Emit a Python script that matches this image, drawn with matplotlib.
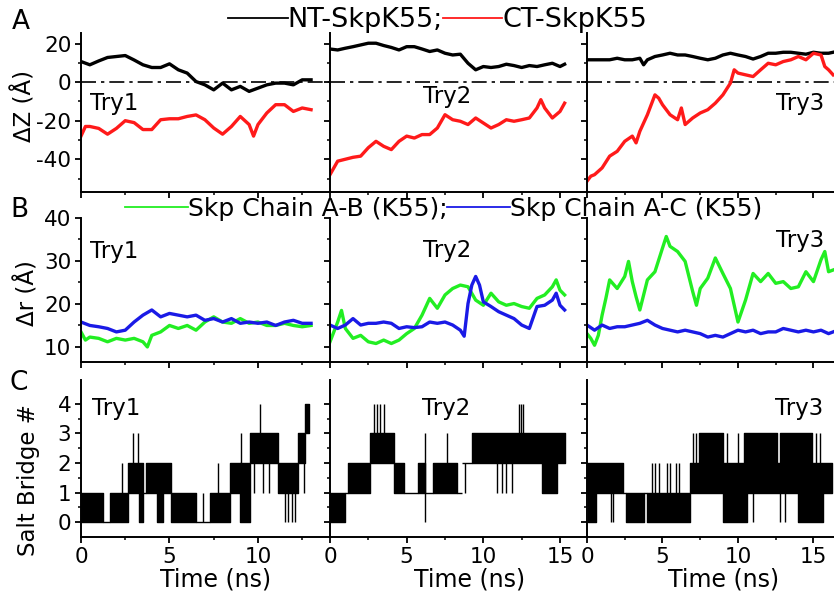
import matplotlib
matplotlib.use("Agg")
import matplotlib.pyplot as plt
from matplotlib.lines import Line2D

plt.rcParams['font.family'] = ['DejaVu Sans']
plt.rcParams['axes.unicode_minus'] = False

# ---- row A: delta Z (A) ----
nt1_t = [0, 0.5, 1, 1.5, 2, 2.5, 3, 3.5, 4, 4.5, 5, 5.5, 6, 6.5, 7, 7.5, 8, 8.5, 9, 9.5, 10, 10.5, 11, 11.5, 12, 12.5, 13]
nt1 = [10.7, 9.0, 11.0, 12.8, 13.3, 13.8, 11.5, 9.0, 7.6, 7.6, 9.5, 6.4, 4.7, 0.3, -1.4, -4.0, -0.5, -4.0, -2.2, -4.8, -3.1, -1.4, -0.5, -0.5, -1.4, 1.2, 1.2]
ct1_t = [0, 0.25, 0.5, 1, 1.5, 2, 2.5, 3, 3.5, 4, 4.5, 5, 5.5, 6, 6.5, 7, 7.5, 8, 8.5, 9, 9.5, 9.75, 10, 10.5, 11, 11.5, 12, 12.5, 13]
ct1 = [-28, -23, -23, -24, -27, -24, -20, -21, -24.6, -24.6, -19.5, -19, -19, -17.8, -17, -19.5, -23.8, -27, -23, -17.8, -22, -28, -22, -16, -11.7, -11.7, -15.2, -13.4, -14.3]

nt2_t = [0, 0.5, 1, 1.5, 2, 2.5, 3, 3.5, 4, 4.5, 5, 5.5, 6, 6.5, 7, 7.5, 8, 8.5, 9, 9.5, 10, 10.5, 11, 11.5, 12, 12.5, 13, 13.5, 14, 14.5, 15, 15.3]
nt2 = [17.2, 16.7, 17.6, 18.4, 19.3, 20.2, 20.2, 19.0, 18.0, 16.7, 18.4, 18.4, 17.2, 15.9, 16.7, 15.0, 14.1, 14.5, 9.8, 6.4, 8.1, 7.6, 8.1, 9.3, 8.6, 7.6, 8.6, 8.1, 9.0, 9.8, 8.1, 9.3]
ct2_t = [0, 0.25, 0.5, 1, 1.5, 2, 2.5, 3, 3.5, 4, 4.5, 5, 5.5, 6, 6.5, 7, 7.5, 8, 8.5, 9, 9.5, 10, 10.5, 11, 11.5, 12, 12.5, 13, 13.5, 13.75, 14, 14.5, 15, 15.3]
ct2 = [-48, -44.5, -41, -40, -39, -38.4, -34, -30.7, -33.3, -35, -30.7, -28, -29, -27.2, -27.2, -23.8, -16.9, -19.5, -20.3, -22, -18.6, -21.2, -23.8, -22, -19.5, -20.3, -19.5, -18.6, -13.4, -9.1, -13.4, -18.6, -15.2, -10.9]

nt3_t = [0, 0.5, 1, 1.5, 2, 2.5, 3, 3.5, 3.75, 4, 4.5, 5, 5.5, 6, 6.5, 7, 7.5, 8, 8.5, 9, 9.5, 10, 10.5, 11, 11.5, 12, 12.5, 13, 13.5, 14, 14.5, 15, 15.5, 16, 16.3]
nt3 = [11.6, 11.6, 11.6, 11.6, 12.4, 11.6, 11.6, 12.4, 9.0, 11.6, 13.3, 14.1, 15.0, 14.1, 14.1, 13.3, 12.4, 11.6, 12.4, 14.1, 15.0, 14.1, 13.3, 12.0, 13.3, 15.0, 15.0, 15.5, 15.5, 15.0, 14.5, 15.5, 15.0, 15.0, 15.5]
ct3_t = [0, 0.25, 0.5, 1, 1.5, 2, 2.5, 3, 3.25, 3.5, 4, 4.5, 4.75, 5, 5.5, 6, 6.25, 6.5, 7, 7.5, 8, 8.5, 9, 9.5, 9.75, 10, 10.5, 11, 11.5, 12, 12.5, 13, 13.5, 14, 14.5, 15, 15.5, 15.75, 16, 16.3]
ct3 = [-51.4, -48.8, -48, -44.5, -38.4, -35.9, -30.7, -28, -31.5, -25.5, -16.9, -6.6, -8.3, -11.7, -16.9, -19.5, -13.4, -22, -18.6, -16, -14.3, -10.9, -6.6, -0.5, 6.4, 4.7, 3.8, 2.9, 6.4, 9.8, 9.0, 10.7, 11.6, 13.3, 11.6, 15.0, 14.1, 8.1, 6.4, 3.8]

# ---- row B: delta r (A) ----
ab1_t = [0, 0.25, 0.5, 1, 1.5, 2, 2.5, 3, 3.5, 3.75, 4, 4.5, 5, 5.5, 6, 6.5, 7, 7.5, 8, 8.5, 9, 9.5, 10, 10.5, 11, 11.5, 12, 12.5, 13]
ab1 = [13.5, 11.6, 12.3, 12.0, 11.2, 12.0, 11.6, 12.0, 11.2, 10.0, 12.7, 13.5, 15.0, 14.3, 15.0, 13.9, 15.8, 17.0, 15.8, 15.5, 16.6, 15.5, 15.8, 15.0, 15.0, 15.5, 15.0, 14.7, 15.0]
ac1_t = [0, 0.5, 1, 1.5, 2, 2.5, 3, 3.5, 4, 4.5, 5, 5.5, 6, 6.5, 7, 7.5, 8, 8.5, 9, 9.5, 10, 10.5, 11, 11.5, 12, 12.5, 13]
ac1 = [15.8, 15.0, 14.7, 14.3, 13.5, 13.9, 15.8, 17.4, 18.6, 17.0, 17.8, 17.4, 17.0, 17.4, 16.2, 16.6, 15.8, 16.6, 15.5, 15.8, 15.5, 15.8, 15.0, 15.8, 16.2, 15.5, 15.5]

ab2_t = [0, 0.25, 0.5, 0.75, 1, 1.5, 2, 2.5, 3, 3.5, 4, 4.5, 5, 5.5, 6, 6.5, 7, 7.5, 8, 8.5, 9, 9.5, 10, 10.5, 11, 11.5, 12, 12.5, 13, 13.5, 14, 14.5, 14.75, 15, 15.3]
ab2 = [11.2, 13.5, 15.8, 18.5, 14.3, 12.0, 12.7, 11.2, 10.8, 11.6, 10.8, 11.6, 13.1, 14.3, 17.4, 21.3, 19.0, 22.1, 23.6, 24.4, 24.0, 20.9, 19.7, 22.5, 20.5, 19.7, 20.1, 19.4, 19.0, 21.3, 22.1, 24.0, 25.6, 23.2, 22.1]
ac2_t = [0, 0.5, 1, 1.5, 2, 2.5, 3, 3.5, 4, 4.5, 5, 5.5, 6, 6.5, 7, 7.5, 8, 8.5, 8.75, 9, 9.25, 9.5, 9.75, 10, 10.5, 11, 11.5, 12, 12.5, 13, 13.5, 14, 14.5, 14.75, 15, 15.3]
ac2 = [15.1, 14.3, 15.1, 16.6, 15.1, 15.5, 15.5, 15.8, 15.5, 14.3, 14.7, 14.5, 14.7, 15.8, 15.5, 15.8, 15.1, 13.9, 12.5, 20.1, 24.4, 26.4, 24.4, 20.5, 19.4, 18.2, 17.4, 16.6, 15.1, 14.3, 19.4, 19.7, 20.9, 22.5, 19.7, 18.6]

ab3_t = [0, 0.25, 0.5, 0.75, 1, 1.25, 1.5, 2, 2.5, 2.75, 3, 3.25, 3.5, 3.75, 4, 4.5, 5, 5.25, 5.5, 6, 6.5, 7, 7.25, 7.5, 8, 8.5, 9, 9.5, 10, 10.5, 11, 11.5, 12, 12.5, 13, 13.5, 14, 14.5, 15, 15.5, 15.75, 16, 16.3]
ab3 = [13.1, 12.0, 10.4, 12.7, 17.4, 21.3, 25.6, 23.6, 26.4, 29.9, 25.2, 21.7, 18.6, 22.1, 25.6, 27.5, 33.0, 35.7, 33.4, 32.2, 29.9, 22.9, 19.7, 23.6, 26.0, 30.7, 27.1, 23.6, 15.8, 20.9, 27.1, 25.2, 27.1, 24.8, 25.2, 23.6, 24.0, 27.5, 25.2, 30.3, 32.2, 27.5, 27.9]
ac3_t = [0, 0.5, 1, 1.5, 2, 2.5, 3, 3.5, 4, 4.5, 5, 5.5, 6, 6.5, 7, 7.5, 8, 8.5, 9, 9.5, 10, 10.5, 11, 11.5, 12, 12.5, 13, 13.5, 14, 14.5, 15, 15.5, 16, 16.3]
ac3 = [15.1, 13.9, 15.1, 14.3, 14.7, 14.7, 15.1, 15.5, 16.2, 15.1, 14.3, 13.9, 13.5, 13.9, 13.5, 13.1, 12.3, 12.7, 12.3, 13.1, 13.9, 13.5, 13.9, 13.1, 13.5, 13.5, 14.3, 13.9, 13.5, 13.9, 13.5, 13.9, 13.1, 13.5]

# ---- row C: salt bridge count, (t_start, t_end, low, high) blocks + single spikes (t, low, high) ----
sb1_blocks = [(0.0, 1.26, 0, 1), (1.26, 1.64, 0, 0), (1.64, 2.67, 0, 1), (2.67, 3.5, 1, 2), (3.3, 3.5, 0, 1),
              (3.5, 3.67, 1, 1), (3.67, 5.1, 1, 2), (4.27, 4.64, 0, 1), (5.1, 6.5, 0, 1), (6.5, 7.27, 0, 0),
              (7.27, 8.4, 0, 1), (8.4, 8.97, 1, 2), (8.97, 9.53, 0, 2), (9.53, 11.13, 2, 3),
              (11.13, 12.26, 1, 2), (12.26, 12.63, 2, 3), (12.63, 12.9, 3, 4)]
sb1_spikes = [(2.3, 1, 2), (2.95, 2, 3), (3.23, 2, 3), (6.9, 0, 1), (7.74, 1, 2), (9.06, 2, 3), (10.1, 3, 4),
              (9.8, 1, 2), (10.3, 1, 2), (10.6, 1, 2), (11.5, 0, 1), (11.7, 0, 1), (11.9, 0, 1), (12.1, 0, 1), (12.6, 1, 2)]

sb2_blocks = [(0.0, 1.0, 0, 1), (1.0, 1.2, 1, 1), (1.2, 2.6, 1, 2), (2.6, 4.2, 2, 3), (4.2, 4.8, 1, 2),
              (4.8, 5.75, 1, 1), (5.75, 6.2, 1, 2), (6.2, 6.7, 1, 1), (6.7, 8.3, 1, 2), (8.3, 8.6, 1, 1),
              (8.6, 9.25, 2, 2), (9.25, 15.3, 2, 3), (13.8, 14.8, 1, 2)]
sb2_spikes = [(2.9, 3, 4), (3.05, 3, 4), (3.25, 3, 4), (3.5, 3, 4), (6.2, 0, 3), (7.6, 2, 3), (8.8, 1, 2),
              (10.9, 1, 2), (11.2, 1, 2), (11.5, 1, 2), (11.9, 1, 2), (12.3, 3, 4), (12.45, 3, 4), (12.6, 3, 4)]

sb3_blocks = [(0.0, 2.4, 1, 2), (0.05, 0.6, 0, 1), (2.4, 2.6, 1, 1), (2.6, 3.8, 0, 1), (3.8, 4.0, 1, 1),
              (4.0, 6.8, 0, 1), (6.8, 16.2, 1, 2), (7.4, 9.0, 2, 3), (9.0, 10.6, 0, 1), (10.4, 12.6, 2, 3),
              (12.8, 14.9, 2, 3), (14.0, 15.6, 0, 1)]
sb3_spikes = [(1.6, 0, 1), (1.75, 0, 1), (4.3, 1, 2), (4.5, 1, 2), (4.8, 1, 2), (5.3, 1, 2), (5.5, 1, 2),
              (5.9, 1, 2), (6.1, 1, 2), (7.0, 2, 3), (7.2, 2, 3), (9.3, 2, 3), (10.0, 2, 3), (11.0, 0, 1),
              (12.8, 0, 1), (13.1, 0, 1), (15.2, 2, 3), (15.4, 2, 3)]

runs = ['Try1', 'Try2', 'Try3']

W, H = 834, 599
fig = plt.figure(figsize=(W / 100, H / 100), dpi=100)

def px_box(x0, x1, y_top, y_bot):
    return [x0 / W, 1 - y_bot / H, (x1 - x0) / W, (y_bot - y_top) / H]

cols = [(81, 330), (330, 587), (587, 834)]
xmax = [14.07, 16.76, 16.36]
rows = [(33, 192), (218, 362), (380, 537)]
ylims = [(-57, 25.5), (6.5, 40), (-0.5, 4.8)]
ymaj = [[-40, -20, 0, 20], [10, 20, 30, 40], [0, 1, 2, 3, 4]]
ymin = [[-50, -30, -10, 10], [15, 25, 35], [0.5, 1.5, 2.5, 3.5]]

axes = [[None] * 3 for _ in range(3)]
for r in range(3):
    for c in range(3):
        ax = fig.add_axes(px_box(cols[c][0], cols[c][1], rows[r][0], rows[r][1]))
        ax.patch.set_alpha(0)
        ax.spines['top'].set_visible(False)
        ax.spines['right'].set_visible(False)
        for s in ('left', 'bottom'):
            ax.spines[s].set_linewidth(1.4)
        ax.set_xticks([t for t in [0, 5, 10, 15] if t <= xmax[c]])
        ax.set_xticks([t for t in [2.5, 7.5, 12.5] if t <= xmax[c]], minor=True)
        ax.set_yticks(ymaj[r])
        ax.set_yticks(ymin[r], minor=True)
        ax.set_xlim(0, xmax[c])
        ax.set_ylim(*ylims[r])
        ax.tick_params(which='major', direction='out', length=4, width=1.3, labelsize=15.5, pad=3)
        ax.tick_params(which='minor', direction='out', length=2.5, width=1.1)
        if c > 0:
            ax.tick_params(labelleft=False)
        if r < 2:
            ax.tick_params(labelbottom=False)
        axes[r][c] = ax

# row A
za = [(nt1_t, nt1, ct1_t, ct1), (nt2_t, nt2, ct2_t, ct2), (nt3_t, nt3, ct3_t, ct3)]
for c, (tb, yb, tr, yr) in enumerate(za):
    ax = axes[0][c]
    ax.axhline(0, color='k', lw=1.2, ls=(0, (9, 3, 2, 3)), zorder=1)
    ax.plot(tb, yb, color='black', lw=2.4)
    ax.plot(tr, yr, color='#ff1a1a', lw=2.4)

# row B
rb = [(ab1_t, ab1, ac1_t, ac1), (ab2_t, ab2, ac2_t, ac2), (ab3_t, ab3, ac3_t, ac3)]
for c, (tg, yg, tb, yb) in enumerate(rb):
    ax = axes[1][c]
    ax.plot(tg, yg, color='#22ee22', lw=2.4)
    ax.plot(tb, yb, color='#1a1ae6', lw=2.4)

# row C
sb = [(sb1_blocks, sb1_spikes), (sb2_blocks, sb2_spikes), (sb3_blocks, sb3_spikes)]
for c, (blocks, spikes) in enumerate(sb):
    ax = axes[2][c]
    for t0, t1, lo, hi in blocks:
        ax.fill_between([t0, t1], [lo, lo], [hi, hi], color='black', lw=1.0)
    for t, lo, hi in spikes:
        ax.vlines(t, lo, hi, color='black', lw=1.0)

# Try labels (axes fraction, baseline)
try_pos = [[(0.036, 0.516), (0.362, 0.56), (0.765, 0.516)],
           [(0.036, 0.722), (0.362, 0.729), (0.765, 0.80)],
           [(0.044, 0.777), (0.358, 0.777), (0.761, 0.777)]]
for r in range(3):
    for c in range(3):
        x, y = try_pos[r][c]
        axes[r][c].text(x, y, runs[c], transform=axes[r][c].transAxes, fontsize=16.5,
                        ha='left', va='baseline')

# panel letters
for lab, (x, y) in zip(['A', 'B', 'C'], [(21, 22), (19, 210), (19, 383)]):
    fig.text(x / W, 1 - y / H, lab, fontsize=19, ha='center', va='center')

# y labels
fig.text(24 / W, 1 - 106 / H, 'ΔZ (Å)', rotation=90, fontsize=16.5, ha='center', va='center')
fig.text(27 / W, 1 - 293 / H, 'Δr (Å)', rotation=90, fontsize=16.5, ha='center', va='center')
fig.text(29 / W, 1 - 480 / H, 'Salt Bridge #', rotation=90, fontsize=16.5, ha='center', va='center')

# x labels
for xc in [216, 470, 724]:
    fig.text(xc / W, 1 - 586 / H, 'Time (ns)', fontsize=17, ha='center', va='baseline')

# legends
h_a = [Line2D([], [], color='black', lw=1.3), Line2D([], [], color='#ff1a1a', lw=1.3)]
fig.legend(h_a, ['NT-SkpK55;', 'CT-SkpK55'], loc='center left', bbox_to_anchor=(228 / W, 1 - 20 / H),
           ncol=2, frameon=False, fontsize=19.5, handlelength=2.2, handletextpad=0.0,
           columnspacing=0.0, borderpad=0, borderaxespad=0)
h_b = [Line2D([], [], color='#22ee22', lw=1.3), Line2D([], [], color='#1a1ae6', lw=1.3)]
fig.legend(h_b, ['Skp Chain A-B (K55);', 'Skp Chain A-C (K55)'], loc='center left',
           bbox_to_anchor=(125 / W, 1 - 209 / H), ncol=2, frameon=False, fontsize=18,
           handlelength=2.5, handletextpad=0.0, columnspacing=0.0, borderpad=0, borderaxespad=0)

fig.savefig('out.png', dpi=100)
